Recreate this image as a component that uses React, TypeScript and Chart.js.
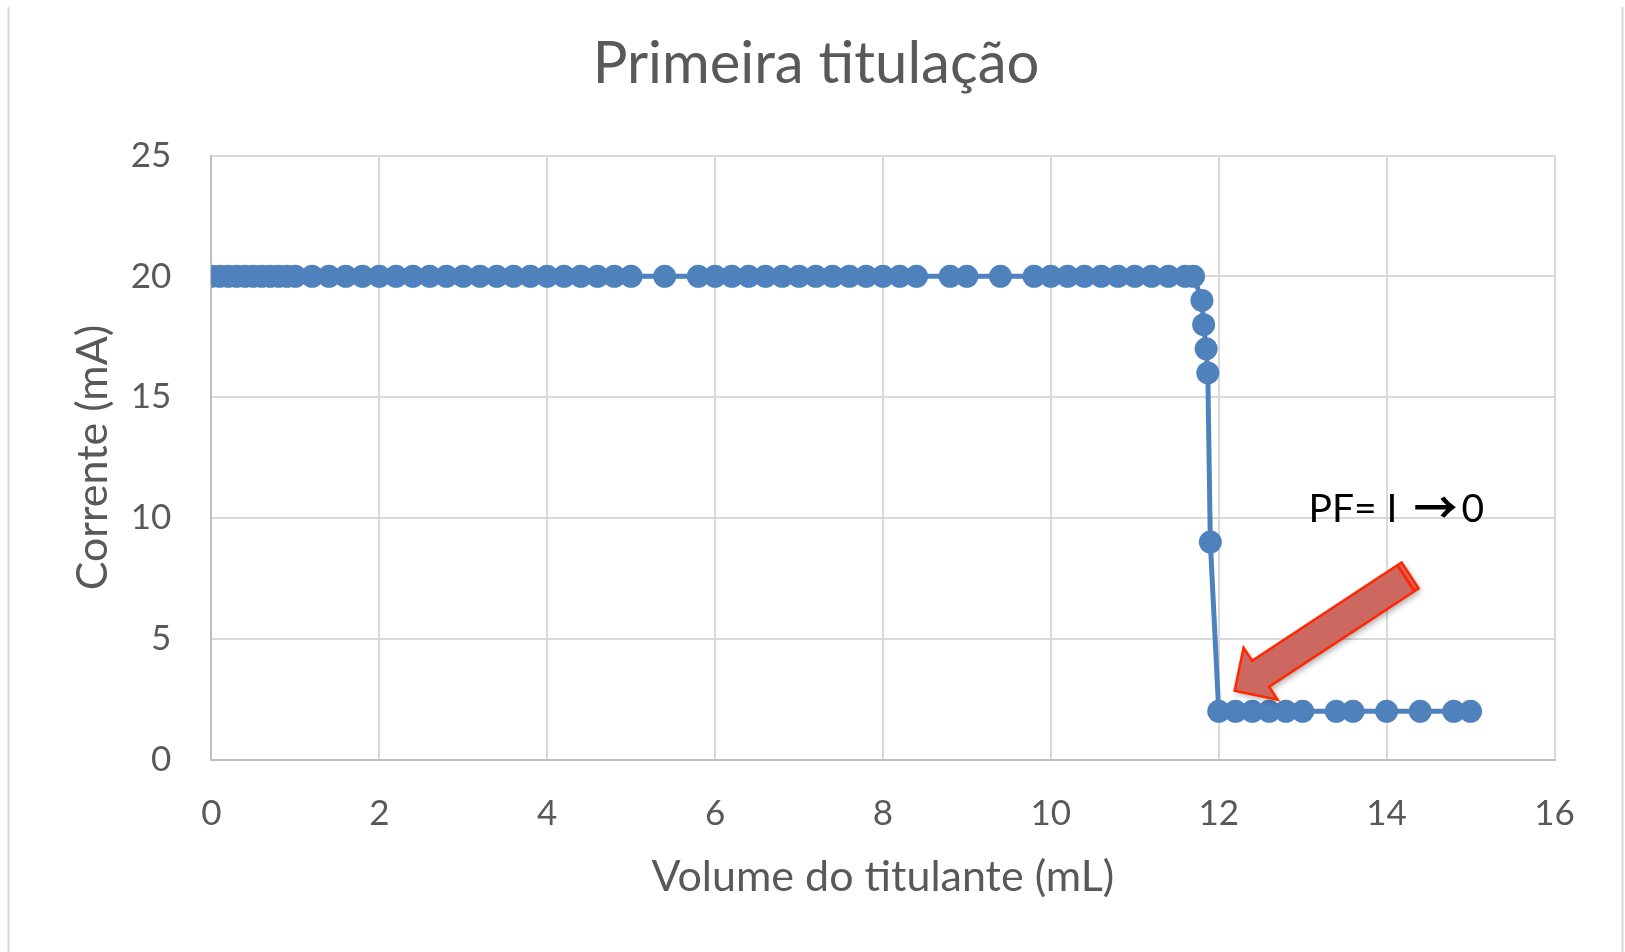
import React, { useEffect, useRef } from "react";
import { Chart, registerables } from "chart.js";

Chart.register(...registerables);

const volume: number[] = [
  0, 0.1, 0.2, 0.3, 0.4, 0.5, 0.6, 0.7, 0.8, 0.9, 1.0,
  1.2, 1.4, 1.6, 1.8, 2.0, 2.2, 2.4, 2.6, 2.8, 3.0,
  3.2, 3.4, 3.6, 3.8, 4.0, 4.2, 4.4, 4.6, 4.8, 5.0,
  5.4,
  5.8, 6.0, 6.2, 6.4, 6.6, 6.8, 7.0, 7.2, 7.4, 7.6, 7.8, 8.0, 8.2, 8.4,
  8.8, 9.0,
  9.4,
  9.8, 10.0, 10.2, 10.4, 10.6, 10.8, 11.0, 11.2, 11.4, 11.6,
  11.7,
  11.8, 11.82, 11.85, 11.87, 11.9,
  12.0, 12.2, 12.4, 12.6, 12.8, 13.0, 13.4, 13.6, 14.0, 14.4, 14.8, 15.0,
];

const current: number[] = [
  20, 20, 20, 20, 20, 20, 20, 20, 20, 20, 20,
  20, 20, 20, 20, 20, 20, 20, 20, 20, 20,
  20, 20, 20, 20, 20, 20, 20, 20, 20, 20,
  20,
  20, 20, 20, 20, 20, 20, 20, 20, 20, 20, 20, 20, 20, 20,
  20, 20,
  20,
  20, 20, 20, 20, 20, 20, 20, 20, 20, 20,
  20,
  19, 18, 17, 16, 9,
  2, 2, 2, 2, 2, 2, 2, 2, 2, 2, 2, 2,
];

const xTicks: number[] = [0, 2, 4, 6, 8, 10, 12, 14, 16];
const yTicks: number[] = [0, 5, 10, 15, 20, 25];

const titleText = "Primeira titulação";
const xTitle = "Volume do titulante (mL)";
const yTitle = "Corrente (mA)";
const notePartA = "PF= I ";
const notePartArrow = "\u2192";
const notePartB = "0";
// annotation anchor and arrow, in data units
const noteAt = { x: 13.07, y: 9.83 };
const arrowTip = { x: 12.19, y: 2.85 };
const arrowTail = { x: 14.28, y: 7.62 };

const W = 1625;
const H = 952;
const FONT = "Lato";
const GREY = "#595959";
const BLUE = "#4F81BD";

const decorPlugin = {
  id: "decor",
  afterDatasetsDraw(chart: any) {
    const ctx = chart.ctx as CanvasRenderingContext2D;
    const xs = chart.scales.x;
    const ys = chart.scales.y;
    ctx.save();
    // arrow
    const tx = xs.getPixelForValue(arrowTip.x);
    const ty = ys.getPixelForValue(arrowTip.y);
    const ex = xs.getPixelForValue(arrowTail.x);
    const ey = ys.getPixelForValue(arrowTail.y);
    const len = Math.hypot(ex - tx, ey - ty);
    const ux = (ex - tx) / len;
    const uy = (ey - ty) / len;
    const nx = -uy;
    const ny = ux;
    const headLen = 31;
    const headHalf = 31;
    const shaftHalf = 15.5;
    const bx = tx + ux * headLen;
    const by = ty + uy * headLen;
    ctx.beginPath();
    ctx.moveTo(tx, ty);
    ctx.lineTo(bx + nx * headHalf, by + ny * headHalf);
    ctx.lineTo(bx + nx * shaftHalf, by + ny * shaftHalf);
    ctx.lineTo(ex + nx * shaftHalf, ey + ny * shaftHalf);
    ctx.lineTo(ex - nx * shaftHalf, ey - ny * shaftHalf);
    ctx.lineTo(bx - nx * shaftHalf, by - ny * shaftHalf);
    ctx.lineTo(bx - nx * headHalf, by - ny * headHalf);
    ctx.closePath();
    ctx.shadowColor = "rgba(0,0,0,0.35)";
    ctx.shadowBlur = 6;
    ctx.shadowOffsetX = 2;
    ctx.shadowOffsetY = 3;
    ctx.fillStyle = "rgb(205,104,96)";
    ctx.fill();
    ctx.shadowColor = "transparent";
    ctx.strokeStyle = "#ff2600";
    ctx.lineWidth = 2.5;
    ctx.lineJoin = "miter";
    ctx.stroke();
    // tail band
    const ix = ex - ux * 5;
    const iy = ey - uy * 5;
    ctx.beginPath();
    ctx.moveTo(ix + nx * shaftHalf, iy + ny * shaftHalf);
    ctx.lineTo(ix - nx * shaftHalf, iy - ny * shaftHalf);
    ctx.lineWidth = 3;
    ctx.stroke();
    // annotation text
    ctx.fillStyle = "#000000";
    ctx.textAlign = "left";
    ctx.textBaseline = "alphabetic";
    let px = xs.getPixelForValue(noteAt.x);
    const py = ys.getPixelForValue(noteAt.y);
    ctx.font = `39px ${FONT}`;
    ctx.fillText(notePartA, px, py);
    px += ctx.measureText(notePartA).width + 2;
    ctx.font = `bold 44px "Noto Sans CJK JP"`;
    ctx.textBaseline = "middle";
    ctx.fillText(notePartArrow, px + 4, py - 15);
    px += ctx.measureText(notePartArrow).width + 8;
    ctx.textBaseline = "alphabetic";
    ctx.font = `39px ${FONT}`;
    ctx.fillText(notePartB, px, py);
    ctx.restore();
  },
  afterDraw(chart: any) {
    const ctx = chart.ctx as CanvasRenderingContext2D;
    ctx.save();
    // title
    ctx.fillStyle = GREY;
    ctx.font = `58px ${FONT}`;
    ctx.textAlign = "center";
    ctx.textBaseline = "alphabetic";
    ctx.fillText(titleText, 816, 83.3);
    // outer frame lines
    ctx.strokeStyle = "#d9d9d9";
    ctx.lineWidth = 2;
    ctx.beginPath();
    ctx.moveTo(8.5, 7);
    ctx.lineTo(8.5, H);
    ctx.moveTo(1622.5, 7);
    ctx.lineTo(1622.5, H);
    ctx.stroke();
    ctx.restore();
  },
};

export default function App() {
  const ref = useRef<HTMLCanvasElement | null>(null);

  useEffect(() => {
    document.body.style.margin = "0";
    document.body.style.overflow = "hidden";
    const canvas = ref.current;
    if (!canvas) return;
    const points = volume.map((v, i) => ({ x: v, y: current[i] }));
    const chart = new Chart(canvas, {
      type: "scatter",
      data: {
        datasets: [
          {
            data: points,
            showLine: true,
            borderColor: BLUE,
            borderWidth: 5,
            backgroundColor: BLUE,
            pointBackgroundColor: BLUE,
            pointBorderWidth: 0,
            pointRadius: 11.5,
            pointHoverRadius: 11.5,
            tension: 0,
          },
        ],
      },
      options: {
        responsive: false,
        animation: false,
        devicePixelRatio: 1,
        layout: { padding: { left: 0, right: 70.5, top: 155.5, bottom: 0 } },
        plugins: {
          legend: { display: false },
          title: { display: false },
          tooltip: { enabled: false },
        },
        scales: {
          x: {
            type: "linear",
            min: 0,
            max: 16,
            afterBuildTicks: (scale: any) => {
              scale.ticks = xTicks.map((v) => ({ value: v }));
            },
            afterFit: (scale: any) => {
              scale.height = H - 759.6;
            },
            grid: { color: "#d9d9d9", lineWidth: 2, drawTicks: false },
            border: { color: "#bfbfbf", width: 2 },
            ticks: {
              padding: 33,
              color: GREY,
              font: { family: FONT, size: 35 },
              maxRotation: 0,
              autoSkip: false,
            },
            title: {
              display: true,
              text: xTitle,
              color: GREY,
              font: { family: FONT, size: 43 },
              padding: { top: 0, bottom: 49.5 },
            },
          },
          y: {
            type: "linear",
            min: 0,
            max: 25,
            afterBuildTicks: (scale: any) => {
              scale.ticks = yTicks.map((v) => ({ value: v }));
            },
            afterFit: (scale: any) => {
              scale.width = 211.4;
            },
            grid: { color: "#d9d9d9", lineWidth: 2, drawTicks: false },
            border: { color: "#bfbfbf", width: 2 },
            ticks: {
              padding: 40,
              color: GREY,
              font: { family: FONT, size: 35 },
              autoSkip: false,
            },
            title: {
              display: true,
              text: yTitle,
              color: GREY,
              font: { family: FONT, size: 43 },
              padding: { top: 67.6, bottom: 0 },
            },
          },
        },
      },
      plugins: [decorPlugin],
    });
    return () => chart.destroy();
  }, []);

  return <canvas ref={ref} width={W} height={H} style={{ display: "block", width: W, height: H }} />;
}
